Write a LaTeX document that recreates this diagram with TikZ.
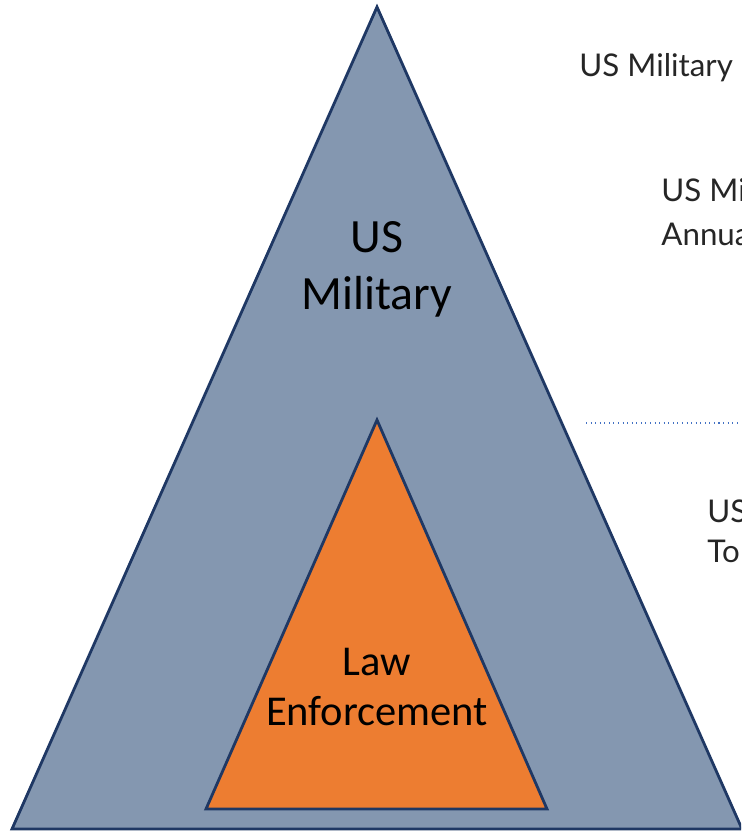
\documentclass[tikz,border=0pt]{standalone}
\usepackage{fontspec}
\setmainfont{Carlito}
\newfontfamily\notefont{Lato}
\usetikzlibrary{positioning}
\definecolor{milblue}{HTML}{8497B0}
\definecolor{navyline}{HTML}{1F3864}
\definecolor{laworange}{HTML}{ED7D31}
\definecolor{notegray}{HTML}{262626}
\definecolor{sepblue}{HTML}{4472C4}

\begin{document}
\begin{tikzpicture}[
  x=0.02cm, y=-0.02cm,
  line width=1.6pt,
  note/.style={anchor=base west, inner sep=0pt, text=notegray,
    font=\notefont\fontsize{17.8}{20}\selectfont},
]
\useasboundingbox (0,0) rectangle (741,831);
\begin{scope}
\clip (0,0) rectangle (741,831);

% triangles
\draw[fill=milblue, draw=navyline] (377,7) -- (742,829) -- (12,829) -- cycle;
\draw[fill=laworange, draw=navyline] (377,420) -- (547,809) -- (206,809) -- cycle;

\node[anchor=base, align=center, inner sep=0pt,
  font=\fontsize{27.2}{32.3}\selectfont] (military) at (377,309) {US\\Military};
\node[anchor=base, align=center, inner sep=0pt,
  font=\fontsize{24.2}{28.3}\selectfont] (lawenf) at (377,725) {Law\\Enforcement};

% notes on the right
\node[note] (nmil) at (578,77) {US Military};
\node[note] (nbudget) at (660,202) {US Mi};
\node[note, below=25pt of nbudget.base west, anchor=base west] (nannual) {Annua};
\draw[sepblue, line width=0.6pt, dotted] (586,423) -- (741,423);
\node[note] (nus) at (706,522) {US};
\node[note, below=23.2pt of nus.base west, anchor=base west] (ntotal) {To};
\end{scope}
\end{tikzpicture}
\end{document}
